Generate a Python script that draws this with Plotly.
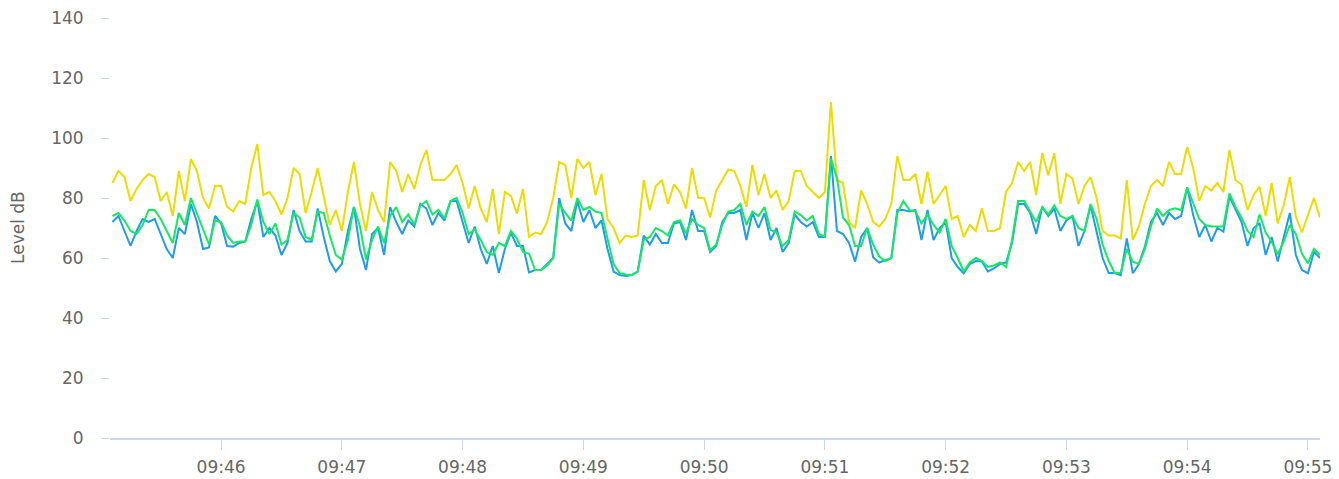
import pandas as pd
import plotly.graph_objects as go

# Sampling: one reading every 3 seconds starting 09:45:06
start_time = "2024-01-01 09:45:06"
step_seconds = 3

level_max = [85, 89, 87, 79, 83, 86, 88, 87, 79, 82, 74, 89, 79, 93, 89, 80,
             76.5, 84, 84, 77, 75.5, 79, 78, 90, 98, 81, 82, 79, 74.5, 80, 90, 88, 75,
             82, 90, 80, 71, 76, 69, 82, 92, 78, 69, 82, 76, 72, 92, 89, 82,
             88, 83, 91, 96, 86, 86, 86, 88, 91, 85, 76.5, 84, 76.5, 72, 83, 68, 82,
             80.7, 74.8, 83, 67, 68.5, 68, 72, 80, 92, 91, 80, 93, 90, 92, 81, 88,
             73, 70, 65, 67.5, 67, 67.5, 86, 76, 84, 86, 78, 84.5, 82, 76.5, 90, 80, 80,
             73.5, 82.5, 86, 89.5, 89, 84, 77, 91, 81, 88, 80, 82.5, 76, 79, 89, 89,
             84, 82, 80, 82, 112, 86, 85, 72, 70, 82.5, 78, 72, 70.5, 73, 78, 94, 86,
             86, 88, 78, 88.8, 78, 81, 84, 73, 74, 67, 71, 69, 76.6, 69, 69, 70,
             82, 85, 92, 89, 92, 81, 95, 87.5, 95, 78, 88, 86.5, 78, 84, 87, 80, 69,
             67.5, 67.5, 66.5, 86, 66, 70.5, 78, 84, 86, 84, 92, 88, 88, 97, 90, 79, 84,
             82.5, 85, 82, 96, 86, 84.5, 76, 81, 83.8, 74, 85, 71.5, 77.7, 87, 73.8, 68.5, 74, 80, 73.5]

level_blue = [72, 74, 69, 64, 69, 73, 72, 73, 68, 63, 60, 70, 68, 78, 72, 63,
              63.5, 74, 71.5, 64, 63.8, 65, 65.5, 73, 79, 67, 70, 67.5, 61, 65, 76, 69, 65.5,
              65.5, 76.5, 67, 59, 55.5, 58, 69, 77, 63, 56, 68, 70, 61, 77, 72, 68,
              72.5, 70.5, 78, 76.5, 71, 75, 72.5, 79, 79, 72, 65, 70.5, 63, 58, 64, 55, 63,
              68.4, 64, 64, 55.2, 56, 56, 58, 60, 80, 71.5, 69, 79, 72, 76, 70, 72.5,
              63, 55.5, 54.3, 54, 54.3, 55.5, 67.5, 64.5, 68, 65, 65, 71.5, 72, 66, 76, 69, 69,
              62, 64, 72, 75, 75, 76, 66, 75, 70, 75, 66, 70, 62, 65, 74.5, 72,
              70.5, 72, 67, 67, 94, 69, 68, 65, 58.8, 67, 70, 60.2, 58.5, 59.3, 60, 76, 76,
              75.5, 76, 66, 76, 66, 70, 72, 60, 57, 54.9, 58, 59, 58.8, 55.5, 56.5, 58,
              58.5, 65, 78, 78, 75, 68, 77, 74, 76.5, 69, 72.5, 74, 64, 69, 77.5, 68.5, 60,
              55, 55, 54.3, 66.5, 54.9, 58, 63.8, 72, 75, 71, 75, 73, 74, 83.5, 74.3, 67, 71,
              65.5, 70, 68.8, 80.5, 76.5, 72, 64, 70, 71.5, 61, 67, 58.8, 67, 75, 61, 56, 54.9, 62, 60]

level_green = [74, 75, 72.5, 69, 68, 71, 76, 76, 73, 69, 65, 75, 71, 80, 75, 70,
               64.5, 72.5, 72, 67.5, 65, 65.5, 65.5, 71, 79.5, 72, 68, 71.5, 64.5, 66, 75, 73.5, 67,
               66, 75.5, 75, 67.5, 61, 59.5, 66, 77, 70.5, 59.5, 66, 70.5, 65, 74, 77, 72,
               74.5, 71, 77.5, 79, 74.5, 76, 73.2, 79, 80, 75, 68, 69.5, 66, 62, 61, 65, 64,
               69, 66.5, 62, 61.5, 56, 56, 57.5, 60, 78, 75, 72.5, 80, 76, 77, 75.5, 75,
               67, 58, 55, 54.5, 54.3, 55.5, 66, 67, 70, 69, 67.5, 72, 72.5, 68.2, 73, 71, 70,
               62.5, 64.5, 71, 75.5, 76, 78, 71, 75.5, 74, 77, 69.3, 68.5, 64, 66, 75.5, 74.3,
               72.5, 74, 68, 67, 93, 86.6, 73.5, 71, 64, 64, 70, 64.5, 60.5, 59, 60, 75, 79,
               76, 75.5, 71.5, 74.5, 71, 68.5, 73, 64, 60, 55.5, 58.5, 60, 59, 57, 57.5, 58.5,
               57, 66, 79, 79, 75.5, 72, 77, 74.5, 77.5, 74, 73, 74, 70, 69, 78, 73, 64.5,
               59, 55, 55.1, 63, 58.8, 58, 63, 70.5, 76.5, 74, 76, 76.6, 76, 83.5, 78.5, 73, 71,
               70.5, 70.5, 70.5, 81.5, 77, 73.5, 69, 67, 74.5, 68.5, 65.4, 61.2, 65.5, 71, 68, 61.5, 58.2, 63, 61]

y_tick_values = [0, 20, 40, 60, 80, 100, 120, 140]
y_title = "Level dB"

times = pd.date_range(start=start_time, periods=len(level_max), freq=f"{step_seconds}s")

fig = go.Figure()
fig.add_trace(go.Scatter(x=times, y=level_max, mode="lines", name="Max",
                         line=dict(color="#ecdc00", width=2)))
fig.add_trace(go.Scatter(x=times, y=level_blue, mode="lines", name="Level",
                         line=dict(color="#1f9ceb", width=2)))
fig.add_trace(go.Scatter(x=times, y=level_green, mode="lines", name="Average",
                         line=dict(color="#14e864", width=2)))

# The page body adds an 8px offset, so the figure is 8px smaller in each direction
fig.update_layout(
    width=1331, height=471,
    margin=dict(l=102, r=19, t=10, b=41, autoexpand=False),
    plot_bgcolor="white", paper_bgcolor="white",
    showlegend=False,
    font=dict(family="DejaVu Sans, sans-serif", size=17, color="#666666"),
)
fig.update_xaxes(
    type="date", automargin=False,
    range=["2024-01-01 09:45:04.8", "2024-01-01 09:55:06"],
    tickformat="%H:%M", dtick=60000, tick0="2024-01-01 09:46:00",
    showgrid=False, zeroline=False,
    showline=True, linecolor="#ccd6eb", linewidth=2,
    ticks="outside", ticklen=10, tickcolor="#ccd6eb", tickwidth=1,
    ticklabelstandoff=3, ticklabeloverflow="allow",
    tickfont=dict(size=17, color="#666666"),
)
fig.update_yaxes(
    automargin=False,
    range=[0, 140], tickvals=y_tick_values,
    showgrid=False, zeroline=False, showline=False,
    ticks="outside", ticklen=8, tickcolor="#ccd6eb", tickwidth=1,
    ticklabelstandoff=14, ticklabeloverflow="allow",
    tickfont=dict(size=17, color="#666666"),
)
fig.add_annotation(
    text=y_title, textangle=-90, showarrow=False,
    xref="paper", yref="paper", x=0, y=0.5,
    xanchor="center", yanchor="middle", xshift=-92,
    font=dict(size=17, color="#666666"),
)

fig.write_html("out.html")
